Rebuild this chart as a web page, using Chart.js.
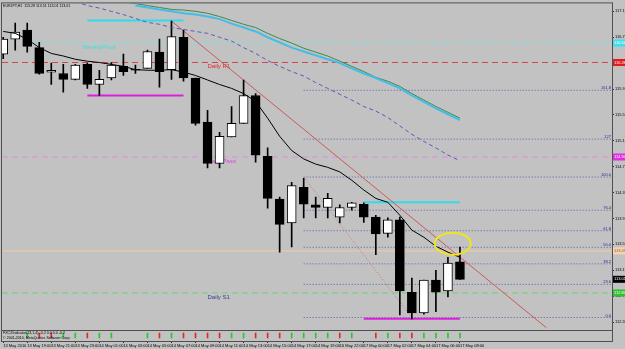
<!DOCTYPE html>
<html>
<head>
<meta charset="utf-8">
<script src="https://cdn.jsdelivr.net/npm/chart.js@4.4.1/dist/chart.umd.min.js"></script>
<style>
  html, body { margin: 0; padding: 0; background: #c2c2c2; }
</style>
</head>
<body>
<canvas id="eurjpyChart" width="625" height="349"></canvas>
<script>
// EURJPY H1 candles, 13 May 17:00 .. 17 May 08:00
const opens  = [116.49, 116.72, 116.86, 116.59, 116.21, 116.19, 116.10, 116.33, 116.02, 116.12, 116.30, 116.25, 116.27, 116.52, 116.25, 116.75, 116.12, 115.44, 114.80, 115.21, 115.42, 115.85, 114.91, 114.25, 113.88, 114.43, 114.16, 114.12, 113.97, 114.12, 114.17, 113.97, 113.72, 113.93, 112.81, 112.49, 113.00, 112.83, 113.28];
const highs  = [116.75, 116.97, 116.97, 116.67, 116.35, 116.33, 116.33, 116.35, 116.24, 116.36, 116.49, 116.32, 116.55, 116.72, 117.00, 116.86, 116.12, 115.62, 115.28, 115.68, 116.09, 115.88, 115.04, 114.28, 114.51, 114.57, 114.28, 114.34, 114.16, 114.20, 114.19, 114.00, 113.96, 113.97, 113.03, 113.00, 113.15, 113.35, 113.51];
const lows   = [116.42, 116.55, 116.52, 116.18, 116.02, 115.90, 116.09, 115.96, 115.85, 116.09, 116.16, 116.19, 116.27, 115.98, 116.10, 116.07, 115.39, 114.73, 114.73, 115.21, 115.42, 114.82, 114.11, 113.43, 113.51, 113.96, 113.96, 113.96, 113.88, 114.08, 113.89, 113.39, 113.66, 112.46, 112.40, 112.47, 112.51, 112.74, 113.01];
const closes = [116.72, 116.83, 116.61, 116.19, 116.24, 116.10, 116.32, 116.02, 116.10, 116.32, 116.22, 116.24, 116.53, 116.22, 116.76, 116.12, 115.42, 114.80, 115.22, 115.42, 115.85, 114.93, 114.26, 113.86, 114.46, 114.17, 114.12, 114.26, 114.12, 114.19, 113.97, 113.71, 113.93, 112.83, 112.49, 113.00, 112.81, 113.26, 113.01];

// moving averages
const maFast  = [116.84, 116.81, 116.72, 116.59, 116.50, 116.46, 116.41, 116.38, 116.36, 116.33, 116.30, 116.25, 116.24, 116.24, 116.25, 116.21, 116.16, 116.09, 116.02, 115.96, 115.88, 115.76, 115.50, 115.22, 115.00, 114.87, 114.79, 114.74, 114.67, 114.54, 114.39, 114.26, 114.20, 114.00, 113.77, 113.66, 113.52, 113.43, 113.35];
const maMid   = [null, null, null, null, null, null, 117.30, 117.24, 117.20, 117.15, 117.10, 117.04, 116.98, 116.95, 116.90, 116.87, 116.84, 116.81, 116.75, 116.69, 116.59, 116.50, 116.39, 116.30, 116.22, 116.15, 116.05, 115.96, 115.87, 115.78, 115.68, 115.61, 115.51, 115.38, 115.25, 115.14, 115.04, 114.93, 114.84];
const maGreen = [null, null, null, null, null, null, null, null, null, 117.32, 117.30, 117.27, 117.24, 117.21, 117.18, 117.17, 117.15, 117.12, 117.07, 117.01, 116.95, 116.90, 116.81, 116.73, 116.66, 116.58, 116.52, 116.46, 116.38, 116.30, 116.22, 116.13, 116.07, 115.99, 115.88, 115.78, 115.68, 115.59, 115.50];
const maCyan  = [null, null, null, null, null, null, null, null, null, null, null, 117.24, 117.21, 117.18, 117.15, 117.12, 117.10, 117.07, 117.03, 116.96, 116.90, 116.84, 116.75, 116.67, 116.59, 116.53, 116.47, 116.41, 116.35, 116.27, 116.19, 116.12, 116.04, 115.96, 115.85, 115.75, 115.65, 115.56, 115.47];

// indicator window: +1 up, -1 down, 0 none
const signals = [0, 0, 1, -1, -1, 1, 1, -1, 1, 1, 0, 0, 1, -1, 1, -1, -1, -1, -1, 1, 1, -1, -1, -1, 1, 1, 1, 1, -1, 1, 0, -1, 1, -1, -1, 1, 1, 1, 1];

// time axis labels, one every second candle
const timeLabels = ['13 May 2010', '13 May 19:00', '13 May 21:00', '13 May 23:00', '14 May 01:00', '14 May 03:00', '14 May 05:00', '14 May 07:00', '14 May 09:00', '14 May 11:00', '14 May 13:00', '14 May 15:00', '14 May 17:00', '14 May 19:00', '16 May 22:00', '17 May 00:00', '17 May 02:00', '17 May 04:00', '17 May 06:00', '17 May 08:00'];
const priceTicks = [117.15, 116.95, 116.75, 116.55, 116.35, 116.15, 115.95, 115.75, 115.55, 115.35, 115.15, 114.95, 114.75, 114.55, 114.35, 114.15, 113.95, 113.75, 113.55, 113.35, 113.15, 112.95, 112.75, 112.55, 112.35];

// pivot levels
const levelNames  = ['WeeklyPivot', 'Daily R1', 'Daily Pivot', 'Daily S1'];
const levelPrices = [116.66, 116.36, 114.90, 112.80];
const prevClose = 113.45;

// session range segments
const rangeStart = [7, 30];
const rangeEnd   = [15, 38];
const rangeHigh  = [117.01, 114.20];
const rangeLow   = [115.85, 112.40];

// fibonacci from swing high (bar 25) to swing low (bar 34)
const fibRatios = [0, 23.6, 38.2, 50.0, 61.8, 76.4, 100.0, 127, 161.8];
const fibLabels = ['0.0', '23.6', '38.2', '50.0', '61.8', '76.4', '100.0', '127', '161.8'];
const fibHigh = [25, 114.59];
const fibLow  = [34, 112.42];

// trend line and highlight
const trendFrom = [14, 117.00];
const trendTo   = [45.2, 112.26];
const circleAt  = [37.4, 113.56];

const xMin = -0.1, xMax = 50.65;
const yMin = 112.227, yMax = 117.273;
const FONT = '"Liberation Sans", Arial, sans-serif';

function toPoints(values) {
    return values.map((v, i) => ({ x: i, y: v }));
}

function flatLine(price, from, to, color, width, dash, order) {
    return {
        type: 'line',
        data: [{ x: from, y: price }, { x: to, y: price }],
        borderColor: color,
        borderWidth: width,
        borderDash: dash,
        pointRadius: 0,
        yAxisID: 'y',
        order
    };
}

function buildDatasets() {
    const sets = [];
    const levelColors = ['#80e2e2', '#d24646', '#e08ae0', '#6cd46c'];

    levelPrices.forEach((p, k) => {
        sets.push(flatLine(p, xMin, xMax, levelColors[k], 1, [6, 4], 20));
    });
    sets.push(flatLine(prevClose, xMin, xMax, '#f4caa2', 1, [], 20));

    const fibRange = fibHigh[1] - fibLow[1];
    fibRatios.forEach(r => {
        sets.push(flatLine(fibLow[1] + fibRange * r / 100, fibHigh[0], xMax, '#5a5aaa', 1, [1, 2], 19));
    });
    sets.push({
        type: 'line',
        data: [{ x: fibHigh[0], y: fibHigh[1] }, { x: fibLow[0], y: fibLow[1] }],
        borderColor: '#d06c6c', borderWidth: 1, borderDash: [1, 2],
        pointRadius: 0, yAxisID: 'y', order: 18
    });

    rangeStart.forEach((s, k) => {
        sets.push(flatLine(rangeHigh[k], s, rangeEnd[k], '#30dcec', 2, [], 17));
        sets.push(flatLine(rangeLow[k], s, rangeEnd[k], '#dc20dc', 2, [], 17));
    });

    sets.push({
        type: 'line',
        data: [{ x: trendFrom[0], y: trendFrom[1] }, { x: trendTo[0], y: trendTo[1] }],
        borderColor: '#d05858', borderWidth: 1,
        pointRadius: 0, yAxisID: 'y', order: 16
    });

    // candles
    sets.push({
        type: 'bar',
        data: lows.map((l, i) => ({ x: i, y: [l, highs[i]] })),
        backgroundColor: '#000000',
        barThickness: 1,
        grouped: false,
        yAxisID: 'y',
        order: 6
    });
    sets.push({
        type: 'bar',
        data: opens.map((o, i) => ({ x: i, y: [o, closes[i]] })),
        backgroundColor: opens.map((o, i) => closes[i] >= o ? '#ffffff' : '#000000'),
        borderColor: '#000000',
        borderWidth: 1,
        borderSkipped: false,
        barThickness: 9,
        minBarLength: 1,
        grouped: false,
        yAxisID: 'y',
        order: 5
    });

    const maLine = (values, color, width, dash, order) => ({
        type: 'line',
        data: toPoints(values),
        borderColor: color,
        borderWidth: width,
        borderDash: dash,
        pointRadius: 0,
        tension: 0,
        yAxisID: 'y',
        order
    });
    sets.push(maLine(maGreen, '#3c8a4c', 1, [], 4));
    sets.push(maLine(maCyan, '#44bde6', 2, [], 3));
    sets.push(maLine(maMid, '#5a5ab8', 1, [4, 3], 2));
    sets.push(maLine(maFast, '#000000', 1, [], 1));

    // indicator sub window
    sets.push({
        type: 'bar',
        data: signals.map((s, i) => ({ x: i, y: s ? [-0.45, 0.45] : null })),
        backgroundColor: signals.map(s => s > 0 ? '#28c828' : '#e02828'),
        barThickness: 1,
        grouped: false,
        yAxisID: 'y2',
        order: 5
    });
    return sets;
}

const decor = {
    id: 'decor',
    beforeDraw(chart) {
        const { ctx } = chart;
        ctx.save();
        ctx.fillStyle = '#c2c2c2';
        ctx.fillRect(0, 0, chart.width, chart.height);
        ctx.restore();
    },
    beforeDatasetsDraw(chart) {
        const { ctx, scales: { x, y } } = chart;
        const textAt = [6.6, 17, 17, 17];
        const textColors = ['#40dede', '#e02c2c', '#dc3cdc', '#3c3ca0'];
        ctx.save();
        ctx.font = '6px ' + FONT;
        ctx.textBaseline = 'top';
        levelNames.forEach((name, k) => {
            ctx.fillStyle = textColors[k];
            ctx.fillText(name, x.getPixelForValue(textAt[k]), y.getPixelForValue(levelPrices[k]) + 1);
        });
        ctx.restore();
    },
    afterDraw(chart) {
        const { ctx, chartArea: area, scales: { x, y, y2 } } = chart;
        ctx.save();

        // frame
        ctx.strokeStyle = '#505050';
        ctx.lineWidth = 1;
        ctx.strokeRect(area.left - 0.5, area.top - 0.5, area.right - area.left + 1, area.bottom - area.top + 1);
        ctx.beginPath();
        ctx.moveTo(area.left, y2.top + 0.5);
        ctx.lineTo(area.right, y2.top + 0.5);
        ctx.stroke();

        // fib labels
        const fibRange = fibHigh[1] - fibLow[1];
        ctx.font = '4px ' + FONT;
        ctx.fillStyle = '#2a2a96';
        ctx.textAlign = 'right';
        ctx.textBaseline = 'bottom';
        fibRatios.forEach((r, k) => {
            ctx.fillText(fibLabels[k], area.right - 1, y.getPixelForValue(fibLow[1] + fibRange * r / 100));
        });

        // price tags on the axis
        const tags = [
            [levelPrices[0], '#3ee0ee', '#ffffff'],
            [levelPrices[1], '#e01c1c', '#ffffff'],
            [levelPrices[2], '#e030e0', '#ffffff'],
            [prevClose, '#f6d2b0', '#806040'],
            [closes[closes.length - 1], '#000000', '#ffffff'],
            [levelPrices[3], '#30c030', '#ffffff']
        ];
        ctx.textAlign = 'left';
        ctx.textBaseline = 'middle';
        tags.forEach(([p, fill, txt]) => {
            const py = y.getPixelForValue(p);
            ctx.fillStyle = fill;
            ctx.fillRect(area.right + 1, py - 3.5, chart.width - area.right - 1, 7);
            ctx.fillStyle = txt;
            ctx.fillText(p.toFixed(2), area.right + 2, py);
        });

        // highlight
        ctx.strokeStyle = '#f0e41c';
        ctx.lineWidth = 2;
        ctx.beginPath();
        ctx.ellipse(x.getPixelForValue(circleAt[0]), y.getPixelForValue(circleAt[1]), 18, 11, 0, 0, Math.PI * 2);
        ctx.stroke();

        // header and sub window captions
        const last = opens.length - 1;
        ctx.fillStyle = '#000000';
        ctx.textBaseline = 'top';
        ctx.font = '3.6px ' + FONT;
        ctx.fillText('EURJPY,H1  ' + [opens[last], highs[last], lows[last], closes[last]].map(v => v.toFixed(2)).join(' '), area.left + 1, area.top + 1);
        ctx.fillText('FXCZIndicator(13,1,4) -0.2 0.0 0.0 -0.2', area.left + 1, y2.top + 1);
        ctx.fillText('\u00a9 2001-2010, MetaQuotes Software Corp.', area.left + 1, y2.top + 6);
        ctx.restore();
    }
};

new Chart(document.getElementById('eurjpyChart'), {
    type: 'bar',
    data: { datasets: buildDatasets() },
    options: {
        responsive: false,
        animation: false,
        events: [],
        layout: { padding: { left: 2, top: 3, right: 0, bottom: 0 } },
        plugins: { legend: { display: false }, tooltip: { enabled: false } },
        scales: {
            x: {
                type: 'linear',
                offset: false,
                min: xMin,
                max: xMax,
                afterBuildTicks: s => { s.ticks = timeLabels.map((_, k) => ({ value: 2 * k })); },
                afterFit: s => { s.height = 8; },
                ticks: {
                    autoSkip: false,
                    maxRotation: 0,
                    align: 'start',
                    padding: 0,
                    color: '#000000',
                    font: { size: 4, family: FONT },
                    callback: v => timeLabels[v / 2]
                },
                grid: { drawOnChartArea: false, offset: false, tickLength: 2, color: '#303030' },
                border: { color: '#303030' }
            },
            y: {
                type: 'linear',
                position: 'right',
                stack: 'pane',
                stackWeight: 29.7,
                min: yMin,
                max: yMax,
                afterBuildTicks: s => { s.ticks = priceTicks.map(v => ({ value: v })); },
                afterFit: s => { s.width = 13; },
                ticks: {
                    padding: 1,
                    color: '#000000',
                    font: { size: 4, family: FONT },
                    callback: v => v.toFixed(2)
                },
                grid: { drawOnChartArea: false, tickLength: 2, color: '#303030' },
                border: { color: '#303030' }
            },
            y2: {
                type: 'linear',
                position: 'right',
                stack: 'pane',
                stackWeight: 1,
                min: -1,
                max: 1,
                afterFit: s => { s.width = 13; },
                ticks: { display: false },
                grid: { display: false },
                border: { color: '#303030' }
            }
        }
    },
    plugins: [decor]
});
</script>
</body>
</html>
